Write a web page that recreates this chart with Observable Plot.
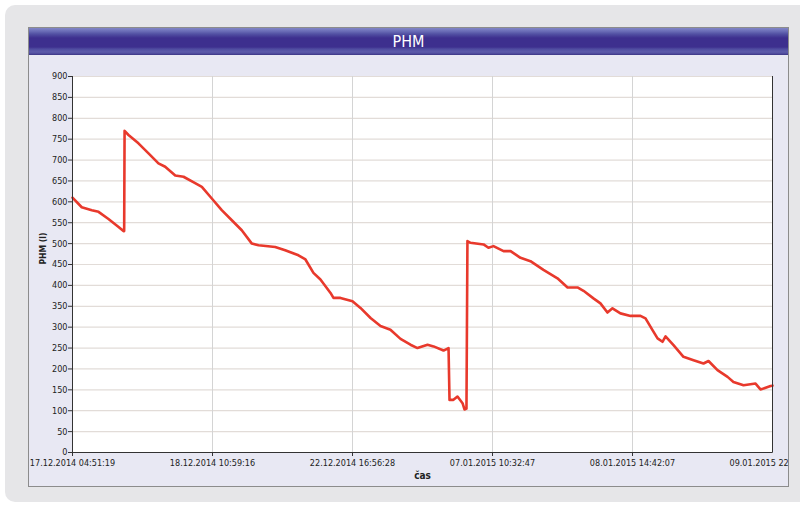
<!DOCTYPE html>
<html>
<head>
<meta charset="utf-8">
<script src="https://cdn.jsdelivr.net/npm/d3@7"></script>
<script src="https://cdn.jsdelivr.net/npm/@observablehq/plot@0.6"></script>
<style>
  html, body { margin: 0; padding: 0; background: #ffffff; width: 800px; height: 506px; overflow: hidden; }
  #outer { position: absolute; left: 5px; top: 5px; width: 810px; height: 497px; background: #e6e6e8; border-radius: 10px; }
  #frame { position: absolute; left: 28px; top: 27px; width: 761px; height: 460px; box-sizing: border-box;
           border: 1px solid #8c8c8c; background: #e8e8f3; overflow: hidden; }
  #titlebar { height: 27px; width: 100%;
    background: linear-gradient(to bottom, #8185c6 0px, #6c6fb8 3px, #5251a3 6px, #3d2f8e 10px, #3d2f8e 19px, #4f4ca0 21px, #5d5caa 24px, #4a4698 26px, #3a3380 27px);
    color: #ffffff; text-align: center; font-family: "DejaVu Sans Condensed", "Liberation Sans Narrow", "DejaVu Sans", sans-serif;
    font-size: 16px; line-height: 27px; }
  #chart { position: absolute; left: 0; top: 27px; }
</style>
</head>
<body>
<div id="outer"></div>
<div id="frame">
  <div id="titlebar">PHM</div>
  <div id="chart"></div>
</div>
<script>
// axis positions (one unit per labelled tick) and readings of PHM (l)
const tickPos = [0, 1, 2, 3, 4, 5];
const tickLabels = ["17.12.2014 04:51:19", "18.12.2014 10:59:16", "22.12.2014 16:56:28", "07.01.2015 10:32:47", "08.01.2015 14:42:07", "09.01.2015 22:"];
const yTicks = [0, 50, 100, 150, 200, 250, 300, 350, 400, 450, 500, 550, 600, 650, 700, 750, 800, 850, 900];

const pos = [0, 0.066, 0.138, 0.186, 0.257, 0.329, 0.364, 0.369, 0.372, 0.4, 0.471, 0.543, 0.614, 0.662, 0.734, 0.793, 0.876, 0.924, 0.995,
  1.066, 1.138, 1.209, 1.281, 1.329, 1.448, 1.519, 1.614, 1.664, 1.721, 1.771, 1.843, 1.864, 1.914, 2.0,
  2.057, 2.129, 2.2, 2.271, 2.343, 2.414, 2.464, 2.536, 2.579, 2.65, 2.686, 2.693, 2.721, 2.75, 2.786, 2.8, 2.814, 2.821,
  2.843, 2.936, 2.971, 3.007, 3.079, 3.129, 3.2, 3.271, 3.364, 3.464, 3.536, 3.607, 3.65, 3.721, 3.771, 3.821, 3.857, 3.914, 3.986,
  4.057, 4.093, 4.143, 4.179, 4.214, 4.236, 4.293, 4.364, 4.436, 4.507, 4.543, 4.607, 4.679, 4.721, 4.793, 4.879, 4.914, 4.936, 4.986, 5.0];
const phm = [610, 587, 580, 576, 559, 540, 530, 530, 770, 760, 740, 716, 692, 684, 663, 660, 645, 636, 608,
  580, 556, 532, 500, 496, 492, 484, 472, 462, 430, 414, 382, 370, 370, 362,
  346, 322, 303, 294, 272, 258, 250, 258, 254, 244, 250, 126, 126, 134, 118, 103, 105, 506,
  502, 498, 490, 494, 482, 482, 466, 458, 437, 417, 395, 395, 387, 369, 357, 335, 345, 333, 327,
  327, 321, 293, 273, 265, 278, 257, 229, 221, 213, 219, 197, 181, 169, 161, 165, 151, 153, 159, 160];

const data = pos.map((p, i) => ({p, v: phm[i]}));
const font = "'DejaVu Sans Condensed', 'Liberation Sans Narrow', 'Liberation Sans', Arial, sans-serif";

const chart = Plot.plot({
  width: 759,
  height: 432,
  marginLeft: 43,
  marginRight: 16,
  marginTop: 21,
  marginBottom: 35,
  style: {background: "transparent", fontFamily: font, fontSize: "9px", color: "#222"},
  x: {domain: [0, 5], axis: null},
  y: {domain: [0, 900], axis: null},
  marks: [
    Plot.frame({fill: "white", stroke: "#6a6a6a"}),
    Plot.gridY(yTicks, {stroke: "#e2dcd8", strokeOpacity: 1, strokeWidth: 1.2}),
    Plot.gridX(tickPos, {stroke: "#d4d4d4", strokeOpacity: 1}),
    Plot.line(data, {x: "p", y: "v", stroke: "#e8392c", strokeWidth: 2.6, strokeLinejoin: "round"}),
    Plot.ruleX([0], {stroke: "#333"}),
    Plot.ruleY([0], {stroke: "#333"}),
    Plot.axisY({ticks: yTicks, tickSize: 4, tickPadding: 1, label: null, tickFormat: d => String(d), stroke: "#333"}),
    Plot.axisX({ticks: tickPos.slice(0, 5), tickSize: 4, tickPadding: 3, label: null, tickFormat: d => tickLabels[d], stroke: "#333"}),
    Plot.tickX([5], {x: d => d, frameAnchor: "bottom", stroke: "#333"}),
    Plot.text([tickLabels[5]], {x: () => 5, frameAnchor: "bottom", textAnchor: "start", lineAnchor: "top", dx: -43, dy: 7}),
    Plot.text(["PHM (l)"], {frameAnchor: "left", dx: -29, rotate: -90, fontWeight: "bold", fontSize: 8.5}),
    Plot.text(["čas"], {frameAnchor: "bottom", dy: 26, fontWeight: "bold", fontSize: 10})
  ]
});
document.getElementById("chart").appendChild(chart);
</script>
</body>
</html>
